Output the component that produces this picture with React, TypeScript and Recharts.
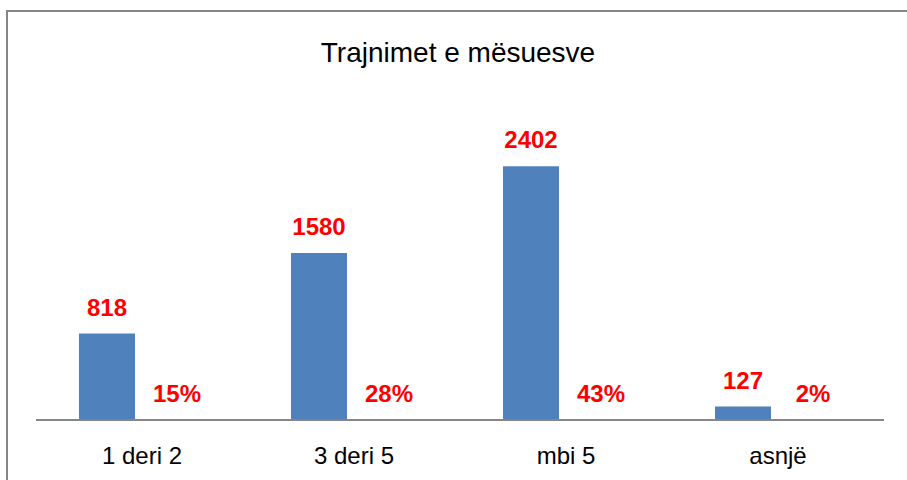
import { BarChart, Bar, XAxis, YAxis, LabelList } from "recharts";

const categories = ["1 deri 2", "3 deri 5", "mbi 5", "asnjë"];
const teachers = [818, 1580, 2402, 127];
const shares = [0.15, 0.28, 0.43, 0.02];

const data = categories.map((name, i) => ({
  name,
  teachers: teachers[i],
  share: shares[i],
}));

const FONT = "'Liberation Sans', Arial, sans-serif";
const BLUE = "#4F81BD";
const RED = "#FF0000";
const AXIS = "#868686";

const labelStyle = {
  fill: RED,
  fontSize: 24,
  fontWeight: "bold" as const,
  fontFamily: FONT,
};

const App = () => {
  return (
    <div
      style={{
        position: "absolute",
        left: 0,
        top: 0,
        width: 907,
        height: 480,
        overflow: "hidden",
        background: "#fff",
      }}
    >
      <div
        style={{
          position: "absolute",
          left: 6,
          top: 10,
          width: 1000,
          height: 1000,
          border: `2px solid ${AXIS}`,
        }}
      />
      <svg
        width={907}
        height={80}
        style={{ position: "absolute", left: 0, top: 0 }}
      >
        <text
          x={458}
          y={62}
          textAnchor="middle"
          fontFamily={FONT}
          fontSize={28}
          fill="#000"
        >
          Trajnimet e mësuesve
        </text>
      </svg>
      <div style={{ position: "absolute", left: 0, top: 0 }}>
        <BarChart
          width={907}
          height={480}
          data={data}
          margin={{ top: 103, right: 23, left: 36, bottom: 0 }}
          barSize={56}
          barGap={0}
        >
          <XAxis
            dataKey="name"
            height={60}
            padding={{ left: -7, right: 7 }}
            axisLine={{ stroke: AXIS, strokeWidth: 2 }}
            tickLine={false}
            tickMargin={21}
            tick={{ fill: "#000", fontSize: 24, fontFamily: FONT, dx: 7 }}
          />
          <YAxis hide domain={[0, 3000]} />
          <Bar dataKey="teachers" fill={BLUE} isAnimationActive={false}>
            <LabelList dataKey="teachers" position="top" offset={18} {...labelStyle} />
          </Bar>
          <Bar dataKey="share" fill={BLUE} isAnimationActive={false}>
            <LabelList
              dataKey="share"
              position="top"
              offset={18}
              dx={14}
              formatter={(v: number) => `${Math.round(v * 100)}%`}
              {...labelStyle}
            />
          </Bar>
        </BarChart>
      </div>
    </div>
  );
};

export default App;
